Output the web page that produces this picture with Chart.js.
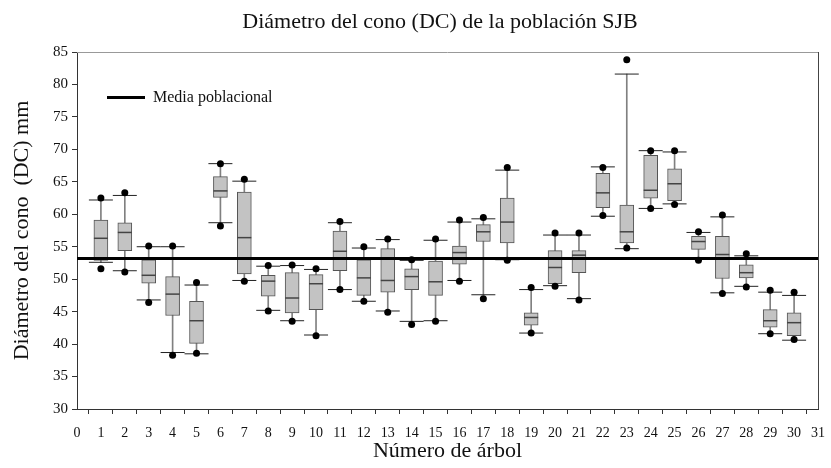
<!DOCTYPE html>
<html>
<head>
<meta charset="utf-8">
<script src="https://cdn.jsdelivr.net/npm/chart.js@4/dist/chart.umd.min.js"></script>
<style>
  html, body { margin: 0; padding: 0; background: #fff; }
  #wrap { width: 831px; height: 468px; }
</style>
</head>
<body>
<div id="wrap"><canvas id="chart"></canvas></div>
<script>
// データ
const trees = [1, 2, 3, 4, 5, 6, 7, 8, 9, 10, 11, 12, 13, 14, 15, 16, 17, 18, 19, 20, 21, 22, 23, 24, 25, 26, 27, 28, 29, 30];
const q1 = [52.9, 54.4, 49.4, 44.4, 40.1, 62.6, 50.8, 47.4, 44.8, 45.3, 51.3, 47.5, 48.0, 48.4, 47.5, 52.3, 55.8, 55.6, 42.9, 49.3, 51.0, 61.0, 55.6, 62.5, 62.1, 54.6, 50.1, 50.2, 42.6, 41.3];
const medians = [56.3, 57.2, 50.6, 47.7, 43.6, 63.6, 56.4, 49.7, 47.1, 49.3, 54.3, 50.2, 49.8, 50.4, 49.6, 54.1, 57.3, 58.8, 44.1, 51.8, 53.7, 63.3, 57.3, 63.7, 64.7, 55.8, 53.8, 51.0, 43.6, 43.3];
const q3 = [59.1, 58.7, 53.0, 50.4, 46.6, 65.8, 63.4, 50.6, 51.0, 50.7, 57.4, 53.0, 54.7, 51.6, 52.8, 55.1, 58.4, 62.5, 44.8, 54.4, 54.4, 66.3, 61.4, 69.1, 67.0, 56.6, 56.6, 52.2, 45.3, 44.8];
const lowCaps = [52.6, 51.3, 46.8, 38.7, 38.5, 58.7, 49.8, 45.2, 43.6, 41.4, 48.4, 46.6, 45.1, 43.5, 43.6, 49.8, 47.6, 53.0, 41.7, 49.0, 47.0, 59.7, 54.7, 60.9, 61.6, 53.1, 47.9, 48.9, 41.6, 40.6];
const highCaps = [62.2, 62.9, 55.0, 55.0, 49.1, 67.8, 65.1, 52.0, 52.1, 51.5, 58.7, 54.8, 56.1, 52.9, 56.0, 58.8, 59.3, 66.8, 48.4, 56.8, 56.8, 67.3, 81.6, 69.8, 69.6, 57.2, 59.6, 53.6, 48.0, 47.5];
const lowDots = [51.6, 51.1, 46.4, 38.3, 38.6, 58.2, 49.7, 45.1, 43.5, 41.3, 48.4, 46.6, 44.9, 43.0, 43.5, 49.7, 47.0, 52.9, 41.7, 48.9, 46.8, 59.8, 54.8, 60.9, 61.5, 52.9, 47.8, 48.8, 41.6, 40.7];
const highDots = [62.5, 63.3, 55.1, 55.1, 49.5, 67.8, 65.4, 52.1, 52.2, 51.6, 58.9, 55.0, 56.2, 53.0, 56.2, 59.1, 59.5, 67.2, 48.7, 57.1, 57.1, 67.2, 83.8, 69.8, 69.8, 57.3, 59.9, 53.9, 48.3, 48.0];
const populationMean = 53.2;
const xTicks = [0, 1, 2, 3, 4, 5, 6, 7, 8, 9, 10, 11, 12, 13, 14, 15, 16, 17, 18, 19, 20, 21, 22, 23, 24, 25, 26, 27, 28, 29, 30, 31];

const serif = "'Liberation Serif', 'DejaVu Serif', serif";

// 点データ作成
function pts(values) {
  return trees.map((t, i) => ({ x: t, y: values[i] }));
}

// タイトルと凡例、枠線
const decorPlugin = {
  id: "decor",
  afterDraw(chart) {
    const { ctx, chartArea } = chart;
    ctx.save();
    // 上と右の枠
    ctx.strokeStyle = "#999";
    ctx.lineWidth = 1;
    ctx.beginPath();
    ctx.moveTo(chartArea.left, chartArea.top + 0.5);
    ctx.lineTo(chartArea.right, chartArea.top + 0.5);
    ctx.stroke();
    ctx.strokeStyle = "#444";
    ctx.beginPath();
    ctx.moveTo(chartArea.right + 0.5, chartArea.top);
    ctx.lineTo(chartArea.right + 0.5, chartArea.bottom);
    ctx.stroke();

    // タイトル
    ctx.fillStyle = "#111";
    ctx.font = "22px " + serif;
    ctx.textAlign = "center";
    ctx.textBaseline = "middle";
    ctx.fillText("Diámetro del cono (DC) de la población SJB", 440, 22);

    // 凡例
    const ly = chartArea.top + 45.5;
    ctx.strokeStyle = "#000";
    ctx.lineWidth = 3;
    ctx.beginPath();
    ctx.moveTo(chartArea.left + 30, ly);
    ctx.lineTo(chartArea.left + 68, ly);
    ctx.stroke();
    ctx.font = "16px " + serif;
    ctx.textAlign = "left";
    ctx.fillText("Media poblacional", chartArea.left + 76, ly);
    ctx.restore();
  },
};

new Chart(document.getElementById("chart"), {
  type: "bar",
  data: {
    datasets: [
      {
        type: "line",
        label: "Media poblacional",
        data: [
          { x: 0, y: populationMean },
          { x: 31, y: populationMean },
        ],
        borderColor: "#000",
        borderWidth: 3,
        pointRadius: 0,
        order: 1,
      },
      {
        type: "scatter",
        label: "dots",
        data: pts(lowDots).concat(pts(highDots)),
        backgroundColor: "#000",
        borderColor: "#000",
        pointRadius: 3.5,
        borderWidth: 0,
        order: 2,
      },
      {
        type: "scatter",
        label: "caps",
        data: pts(lowCaps).concat(pts(highCaps)),
        pointStyle: "line",
        pointRadius: 12,
        borderColor: "#222",
        borderWidth: 1,
        order: 3,
      },
      {
        type: "scatter",
        label: "median",
        data: pts(medians),
        pointStyle: "line",
        pointRadius: 7,
        borderColor: "#444",
        borderWidth: 1.5,
        order: 3,
      },
      {
        type: "bar",
        label: "box",
        data: trees.map((t, i) => ({ x: t, y: [q1[i], q3[i]] })),
        backgroundColor: "#c3c3c3",
        borderColor: "#555",
        borderWidth: 1,
        borderSkipped: false,
        barThickness: 14,
        grouped: false,
        order: 4,
      },
      {
        type: "bar",
        label: "whisker",
        data: trees.map((t, i) => ({ x: t, y: [lowCaps[i], highCaps[i]] })),
        backgroundColor: "#808080",
        borderWidth: 0,
        barThickness: 1,
        grouped: false,
        order: 5,
      },
    ],
  },
  options: {
    responsive: true,
    maintainAspectRatio: false,
    animation: false,
    layout: {
      padding: { top: 52, right: 13, left: 0, bottom: 0 },
    },
    plugins: {
      legend: { display: false },
      tooltip: { enabled: false },
    },
    scales: {
      x: {
        type: "linear",
        min: 0,
        max: 31,
        offset: false,
        afterBuildTicks: (scale) => {
          scale.ticks = xTicks.map((v) => ({ value: v }));
        },
        afterFit: (scale) => {
          scale.height = 59;
          scale.paddingLeft = 0;
          scale.paddingRight = 0;
        },
        grid: {
          drawOnChartArea: false,
          tickLength: 5,
          color: "#333",
        },
        border: { color: "#333", width: 1 },
        ticks: {
          font: { family: serif, size: 14 },
          color: "#111",
          padding: 11,
          maxRotation: 0,
          autoSkip: false,
        },
        title: {
          display: true,
          text: "Número de árbol",
          font: { family: serif, size: 22 },
          color: "#111",
          padding: { top: 0, bottom: 4 },
        },
      },
      y: {
        min: 30,
        max: 85,
        afterFit: (scale) => {
          scale.width = 77;
        },
        grid: {
          drawOnChartArea: false,
          tickLength: 5,
          color: "#333",
        },
        border: { color: "#333", width: 1 },
        ticks: {
          stepSize: 5,
          font: { family: serif, size: 15 },
          color: "#111",
          padding: 4,
        },
        title: {
          display: true,
          text: "Diámetro del cono  (DC) mm",
          font: { family: serif, size: 22 },
          color: "#111",
          padding: { top: 9, bottom: 0 },
        },
      },
    },
  },
  plugins: [decorPlugin],
});
</script>
</body>
</html>
